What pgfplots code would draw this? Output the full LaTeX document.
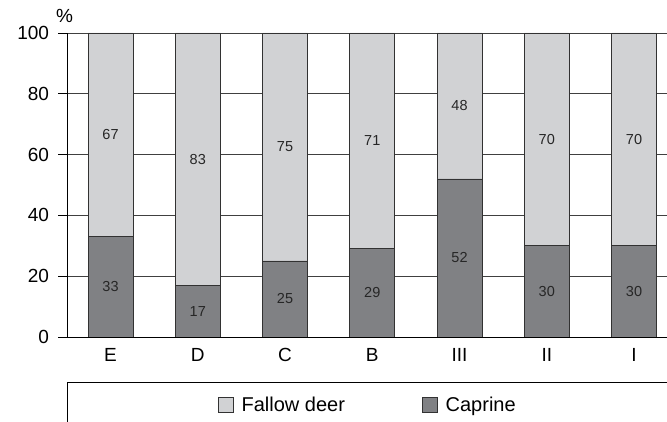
\documentclass[border=0pt]{standalone}
\usepackage{fontspec}
\setmainfont{Liberation Sans}
\usepackage{pgfplots}
\pgfplotsset{compat=1.18}
\definecolor{lightbar}{RGB}{209,210,212}
\definecolor{darkbar}{RGB}{128,129,132}
\definecolor{edge}{RGB}{50,50,50}
\begin{document}
\begin{tikzpicture}
\useasboundingbox (-67.5pt,-85pt) rectangle (599.5pt,337pt);
\clip (-67.5pt,-85pt) rectangle (599.5pt,337pt);
\begin{axis}[
  scale only axis,
  width=601pt, height=304pt,
  at={(0pt,0pt)}, anchor=south west,
  ybar stacked,
  bar width=45pt,
  xmin=-0.493, xmax=6.395,
  ymin=0, ymax=100,
  xtick={0,1,2,3,4,5,6},
  xticklabels={E,D,C,B,III,II,I},
  ytick={0,20,40,60,80,100},
  axis x line*=bottom,
  axis y line*=left,
  axis line style={black, line width=0.8pt},
  tick align=outside,
  major tick length=9pt,
  major x tick style={draw=none},
  major y tick style={black, line width=0.8pt},
  ymajorgrids,
  major grid style={black!75, line width=0.8pt},
  tick label style={font=\fontsize{19}{22}\selectfont},
  /pgf/number format/assume math mode=true,
  yticklabel style={xshift=-6pt},
  xticklabel style={yshift=1pt},
  ylabel={\%},
  every axis y label/.style={at={(axis description cs:0,1)}, anchor=center, xshift=-3pt, yshift=17pt, font=\fontsize{19}{22}\selectfont},
  nodes near coords,
  every node near coord/.append style={anchor=center, font=\fontsize{14.5}{17}\selectfont, text=black!85},
  reverse legend,
  legend columns=2,
  legend style={at={(0,0)}, anchor=north west, yshift=-45pt, draw=black, line width=0.8pt,
    inner xsep=150pt, inner ysep=12.5pt, font=\fontsize{20}{23}\selectfont,
    /tikz/every odd column/.append style={column sep=6pt},
    /tikz/every even column/.append style={column sep=75pt}},
]
\addplot[fill=darkbar, draw=edge, line width=0.7pt,
  legend image code/.code={\draw[fill=darkbar, draw=edge, line width=0.7pt] (0pt,-7.5pt) rectangle (15pt,7.5pt);}]
  coordinates {(0,33) (1,17) (2,25) (3,29) (4,52) (5,30) (6,30)};
\addplot[fill=lightbar, draw=edge, line width=0.7pt,
  legend image code/.code={\draw[fill=lightbar, draw=edge, line width=0.7pt] (0pt,-7.5pt) rectangle (15pt,7.5pt);}]
  coordinates {(0,67) (1,83) (2,75) (3,71) (4,48) (5,70) (6,70)};
\legend{Caprine, Fallow deer}
\end{axis}
\end{tikzpicture}
\end{document}
